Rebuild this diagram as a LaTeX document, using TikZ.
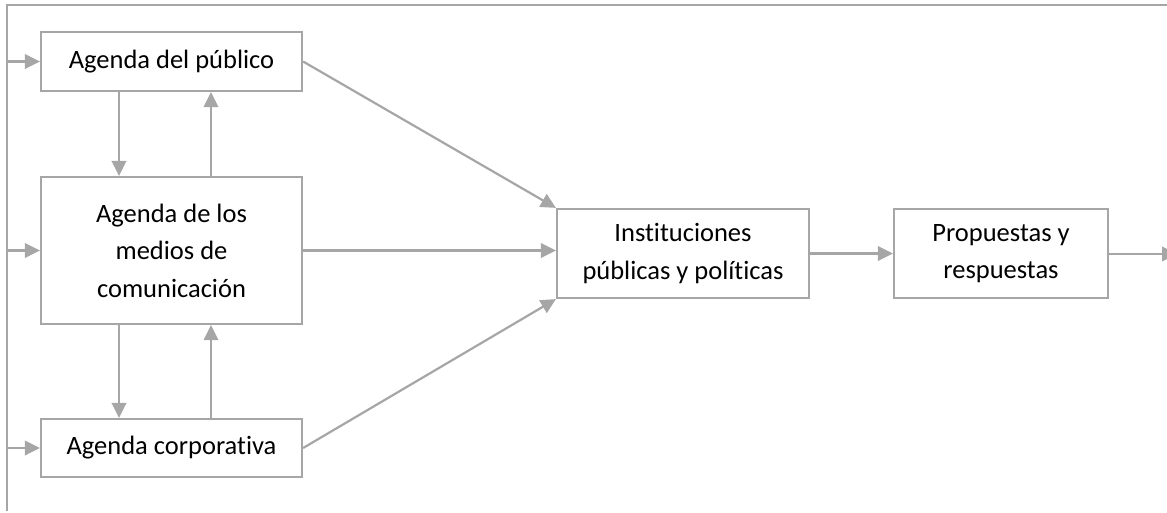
\documentclass[tikz,border=0pt]{standalone}
\usepackage{fontspec}
\setmainfont{Carlito}[Ligatures={NoCommon}]
\usetikzlibrary{arrows.meta,calc}
\definecolor{lg}{HTML}{A6A6A6}
\begin{document}
\begin{tikzpicture}[x=1pt,y=-1pt,
  box/.style={draw=lg,line width=2.2pt,fill=white,align=center,inner sep=0pt,
    font=\fontsize{26.5}{37.5}\selectfont,text=black},
  conn/.style={draw=lg,line width=2.2pt,-{Triangle[length=15pt,width=14.5pt]}},
  plain/.style={draw=lg,line width=2.2pt}]
\useasboundingbox (0,0) rectangle (1167,512);
\node[box,minimum width=261pt,minimum height=59pt] (pub) at (171.5,61.5) {Agenda del público};
\node[box,minimum width=261pt,minimum height=147pt] (med) at (171.5,250.5) {Agenda de los\\medios de\\comunicación};
\node[box,minimum width=261pt,minimum height=58pt] (corp) at (171.5,448) {Agenda corporativa};
\node[box,minimum width=252pt,minimum height=89pt] (inst) at (683,253.5) {Instituciones\\públicas y políticas};
\node[box,minimum width=214pt,minimum height=89pt] (prop) at (1001,253.5) {Propuestas y\\respuestas};
\coordinate (tl) at (7,5);
\coordinate (tr) at (1167,5);
\coordinate (bl) at (7,511);
\coordinate (out) at (1177,254);
\draw[plain] (tr) -- (tl) -- (bl);
\draw[conn] (tl |- pub.west) -- (pub.west);
\draw[conn] (tl |- med.west) -- (med.west);
\draw[conn] (tl |- corp.west) -- (corp.west);
\draw[conn] (119,0 |- pub.south) -- (119,0 |- med.north);
\draw[conn] (211,0 |- med.north) -- (211,0 |- pub.south);
\draw[conn] (119,0 |- med.south) -- (119,0 |- corp.north);
\draw[conn] (211,0 |- corp.north) -- (211,0 |- med.south);
\draw[conn] (pub.east) -- (inst.north west);
\draw[conn] (med.east) -- (med.east -| inst.west);
\draw[conn] (corp.east) -- (inst.south west);
\draw[conn] (inst.east) -- (prop.west);
\draw[conn] (prop.east |- out) -- (out);
\end{tikzpicture}
\end{document}
